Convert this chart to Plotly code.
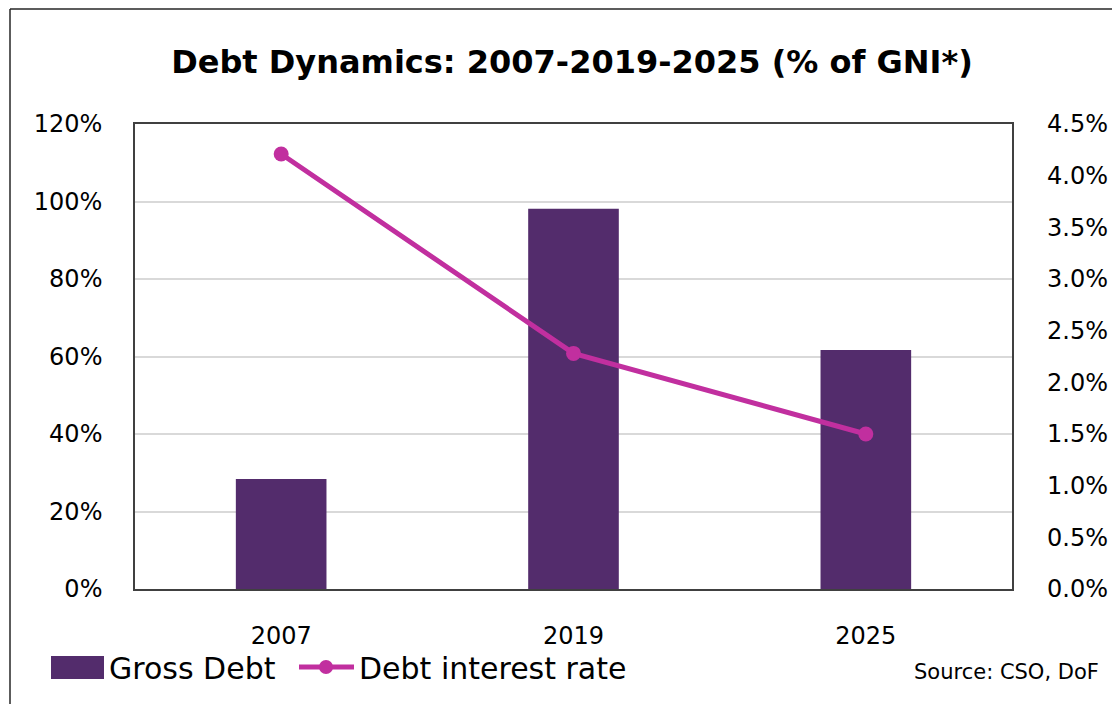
import plotly.graph_objects as go

years = ["2007", "2019", "2025"]
gross_debt = [28.4, 98.1, 61.7]
interest_rate = [4.21, 2.28, 1.50]

BAR_COLOR = "#532C6C"
LINE_COLOR = "#C12F9F"
FONT = "DejaVu Sans"

# The page body has an 8px margin, so the figure is drawn 8px smaller and
# every screen coordinate below is measured in the 1120x704 window.
OFF = 8
W, H = 1120 - OFF, 704 - OFF
L, R, T, B = 135 - OFF, 108, 124 - OFF, 115
PW, PH = W - L - R, H - T - B


def px(x):
    return (x - 135) / PW


def py(y):
    return (589 - y) / PH


fig = go.Figure()
fig.add_trace(go.Bar(x=years, y=gross_debt, name="Gross Debt",
                     marker=dict(color=BAR_COLOR, line=dict(width=0)),
                     showlegend=False))
fig.add_trace(go.Scatter(x=years, y=interest_rate, name="Debt interest rate",
                         yaxis="y2", mode="lines+markers",
                         line=dict(color=LINE_COLOR, width=5),
                         marker=dict(color=LINE_COLOR, size=15),
                         showlegend=False))

shapes = [
    # outer frame (left and top edges)
    dict(type="line", xref="paper", yref="paper", x0=px(10), x1=px(10),
         y0=py(720), y1=py(9), line=dict(color="#262626", width=1.5)),
    dict(type="line", xref="paper", yref="paper", x0=px(10), x1=px(1140),
         y0=py(9), y1=py(9), line=dict(color="#262626", width=1.5)),
    # legend swatches
    dict(type="rect", xref="paper", yref="paper", x0=px(51), x1=px(104),
         y0=py(679), y1=py(656), fillcolor=BAR_COLOR, line=dict(width=0)),
    dict(type="line", xref="paper", yref="paper", x0=px(299), x1=px(354),
         y0=py(667), y1=py(667), line=dict(color=LINE_COLOR, width=5)),
    dict(type="circle", xref="paper", yref="paper", x0=px(319), x1=px(333),
         y0=py(674), y1=py(660), fillcolor=LINE_COLOR, line=dict(width=0)),
]

annotations = [
    dict(text="Gross Debt", xref="paper", yref="paper", x=px(107), y=py(668),
         xanchor="left", yanchor="middle", showarrow=False,
         font=dict(family=FONT, size=30, color="#000000")),
    dict(text="Debt interest rate", xref="paper", yref="paper", x=px(357), y=py(668),
         xanchor="left", yanchor="middle", showarrow=False,
         font=dict(family=FONT, size=30, color="#000000")),
    dict(text="Source: CSO, DoF", xref="paper", yref="paper", x=px(1101), y=py(672),
         xanchor="right", yanchor="middle", showarrow=False,
         font=dict(family=FONT, size=21, color="#000000")),
]

fig.update_layout(
    width=W, height=H,
    margin=dict(l=L, r=R, t=T, b=B),
    paper_bgcolor="white", plot_bgcolor="white",
    font=dict(family=FONT, size=24, color="#000000"),
    title=dict(text="<b>Debt Dynamics: 2007-2019-2025 (% of GNI*)</b>",
               x=(572 - OFF) / W, xanchor="center", y=1 - (62 - OFF) / H,
               yanchor="middle", yref="container",
               font=dict(family=FONT, size=32, color="#000000")),
    bargap=0.69,
    xaxis=dict(showline=True, linecolor="#404040", linewidth=1.5, mirror=True,
               ticks="", ticklabelstandoff=24, showgrid=False),
    yaxis=dict(range=[0, 120], dtick=20, ticksuffix="%", showline=True,
               linecolor="#404040", linewidth=1.5, mirror=True,
               gridcolor="#D9D9D9", gridwidth=1.5, ticks="", zeroline=False,
               ticklabelstandoff=26),
    yaxis2=dict(range=[0, 4.5], dtick=0.5, tickformat=".1f", ticksuffix="%",
                overlaying="y", side="right", showgrid=False, zeroline=False,
                showline=False, ticks="", ticklabelstandoff=34),
    shapes=shapes,
    annotations=annotations,
)

fig.write_html("out.html")
